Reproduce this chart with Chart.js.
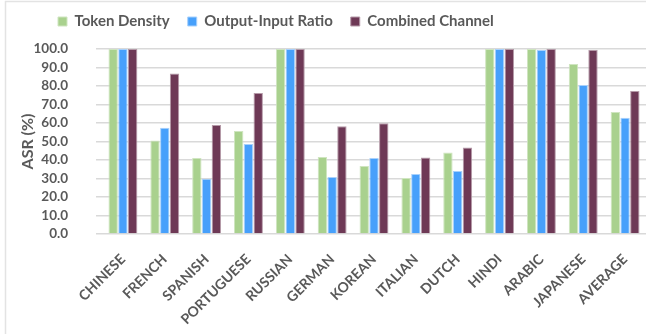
<!DOCTYPE html>
<html>
<head>
<meta charset="utf-8">
<script src="https://cdn.jsdelivr.net/npm/chart.js@4.4.1/dist/chart.umd.min.js"></script>
<style>
  html, body { margin: 0; padding: 0; background: #ffffff; }
  #wrap { position: relative; width: 646px; height: 334px; }
</style>
</head>
<body>
<div id="wrap"><canvas id="c" width="646" height="334"></canvas></div>
<script>
// Attack success rate per language for each detection channel
const languages = ['CHINESE', 'FRENCH', 'SPANISH', 'PORTUGUESE', 'RUSSIAN', 'GERMAN', 'KOREAN',
                   'ITALIAN', 'DUTCH', 'HINDI', 'ARABIC', 'JAPANESE', 'AVERAGE'];
const tokenDensity      = [100.0, 50.5, 41.1, 55.7, 100.0, 41.6, 36.8, 30.3, 44.1, 100.0, 100.0, 91.9, 66.0];
const outputInputRatio  = [100.0, 57.5, 29.9, 48.6, 100.0, 30.8, 41.1, 32.4, 34.1, 100.0, 99.4, 80.5, 62.9];
const combinedChannel   = [100.0, 86.8, 58.9, 76.2, 100.0, 58.2, 59.8, 41.4, 46.8, 100.0, 100.0, 99.5, 77.3];
const seriesNames = ['Token Density', 'Output-Input Ratio', 'Combined Channel'];

const TEXT = '#595959';
const FONT = 'Lato, "Open Sans", sans-serif';

// thin frame along the top and left edges of the canvas
const framePlugin = {
  id: 'frame',
  beforeDraw(chart) {
    const ctx = chart.ctx;
    ctx.save();
    ctx.strokeStyle = '#e3e3e3';
    ctx.lineWidth = 1.5;
    ctx.beginPath();
    ctx.moveTo(5.5, chart.height);
    ctx.lineTo(5.5, 1.5);
    ctx.lineTo(chart.width, 1.5);
    ctx.stroke();
    ctx.restore();
  }
};

// nudge the legend row left and up
const legendShift = {
  id: 'legendShift',
  afterLayout(chart) {
    const lg = chart.legend;
    if (lg) { lg.left += 26; lg.right += 26; lg.top -= 10; lg.bottom -= 10; }
  }
};

new Chart(document.getElementById('c'), {
  type: 'bar',
  data: {
    labels: languages,
    datasets: [
      { label: seriesNames[0], data: tokenDensity, backgroundColor: '#a9d18e', borderColor: '#cfe5c0', borderWidth: 1 },
      { label: seriesNames[1], data: outputInputRatio, backgroundColor: '#47a0fb', borderColor: '#a8d1fc', borderWidth: 1 },
      { label: seriesNames[2], data: combinedChannel, backgroundColor: '#6e3956', borderColor: '#b59aa8', borderWidth: 1 }
    ]
  },
  options: {
    responsive: false,
    animation: false,
    layout: { padding: { left: 14, right: 0, top: 6, bottom: 0 } },
    datasets: { bar: { categoryPercentage: 0.70, barPercentage: 0.96 } },
    plugins: {
      legend: {
        position: 'top',
        align: 'start',
        labels: {
          color: TEXT,
          font: { family: FONT, size: 15, weight: 'bold' },
          boxWidth: 9,
          boxHeight: 9,
          padding: 18
        }
      },
      tooltip: { enabled: false }
    },
    scales: {
      x: {
        grid: { display: false },
        border: { display: false },
        ticks: {
          color: TEXT,
          font: { family: FONT, size: 14, weight: 'bold' },
          maxRotation: 45,
          minRotation: 45,
          autoSkip: false,
          padding: 9
        },
        afterFit(scale) { scale.height = 100; }
      },
      y: {
        min: 0,
        max: 100,
        border: { display: false },
        grid: { color: '#d9d9d9', lineWidth: 1.5, drawTicks: true, tickLength: 6, tickColor: '#d9d9d9' },
        ticks: {
          stepSize: 10,
          autoSkip: false,
          color: TEXT,
          padding: 28,
          font: { family: FONT, size: 13.5, weight: 'bold' },
          callback: v => v.toFixed(1)
        },
        title: {
          display: true,
          text: 'ASR (%)',
          color: TEXT,
          font: { family: FONT, size: 16, weight: 'bold' },
          padding: { top: 4, bottom: 0 }
        },
        afterFit(scale) { scale.width = 88; }
      }
    }
  },
  plugins: [framePlugin, legendShift]
});
</script>
</body>
</html>
